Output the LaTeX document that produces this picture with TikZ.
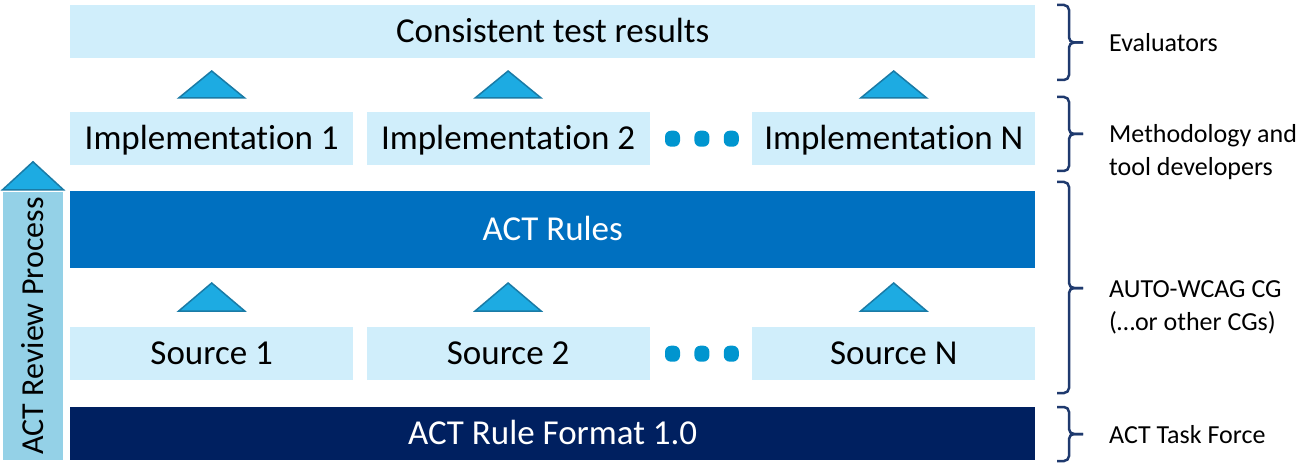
\documentclass[tikz,border=0pt]{standalone}
\usepackage{fontspec}
\setmainfont{Carlito}[Ligatures=NoCommon]
\usepackage{tikz}
\usetikzlibrary{positioning,calc}
\definecolor{boxlight}{HTML}{D0EEFB}
\definecolor{rulesblue}{HTML}{0070C0}
\definecolor{formatnavy}{HTML}{002060}
\definecolor{barblue}{HTML}{94D1E7}
\definecolor{trifill}{HTML}{1DABE2}
\definecolor{triedge}{HTML}{1A7BA6}
\definecolor{dotblue}{HTML}{0095CF}
\definecolor{bracenavy}{HTML}{1F3A6E}
\tikzset{
boxtext/.style = {font=\fontsize{35}{40}\selectfont, text height=22pt, text depth=0pt, inner sep=0pt},
lightbox/.style = {boxtext, fill=boxlight, rectangle, minimum height=53pt, minimum width=283pt},
widebox/.style = {boxtext, rectangle, minimum height=53pt, minimum width=965pt},
rulesbox/.style = {widebox, fill=rulesblue, text=white, minimum height=77pt},
formatbox/.style = {widebox, fill=formatnavy, text=white},
reviewbar/.style = {fill=barblue, rectangle, rotate=90, minimum width=268pt, minimum height=60pt, inner sep=0pt, font=\fontsize{32}{38}\selectfont},
tri/.style = {fill=trifill, draw=triedge, line width=1.5pt, line join=miter},
dot/.style = {fill=dotblue, rectangle, rounded corners=6pt, minimum width=15pt, minimum height=16pt, inner sep=0pt},
brace/.style = {draw=bracenavy, line width=2.5pt, rounded corners=5pt},
role/.style = {anchor=base west, align=left, inner sep=0pt, font=\fontsize{26}{33}\selectfont}
}
\begin{document}
\begin{tikzpicture}[x=1pt,y=-1pt]
	\useasboundingbox (0,0) rectangle (1300,465);
	% rows
	\node[widebox, fill=boxlight, anchor=north west] (results) at (70,5) {Consistent test results};
	\node[lightbox, anchor=north west] (impl1) at (70,112) {Implementation 1};
	\node[lightbox, right=13pt of impl1] (impl2) {Implementation 2};
	\node[dot, right=15pt of impl2] (idot1) {};
	\node[dot, right=14pt of idot1] (idot2) {};
	\node[dot, right=14pt of idot2] (idot3) {};
	\node[lightbox, anchor=north west] (implN) at (752,112) {Implementation N};
	\node[rulesbox, anchor=north west] (rules) at (70,191) {ACT Rules};
	\node[lightbox, anchor=north west] (src1) at (70,327) {Source 1};
	\node[lightbox, right=13pt of src1] (src2) {Source 2};
	\node[dot, right=15pt of src2] (sdot1) {};
	\node[dot, right=14pt of sdot1] (sdot2) {};
	\node[dot, right=14pt of sdot2] (sdot3) {};
	\node[lightbox, anchor=north west] (srcN) at (752,327) {Source N};
	\node[formatbox, anchor=north west] (format) at (70,407) {ACT Rule Format 1.0};
	\node[reviewbar] (review) at (33,326) {ACT Review Process};
	% arrows up
	\filldraw[tri] ($(impl1.north)+(-33,-14)$) -- ($(impl1.north)+(0,-41)$) -- ($(impl1.north)+(33,-14)$) -- cycle;
	\filldraw[tri] ($(impl2.north)+(-33,-14)$) -- ($(impl2.north)+(0,-41)$) -- ($(impl2.north)+(33,-14)$) -- cycle;
	\filldraw[tri] ($(implN.north)+(-33,-14)$) -- ($(implN.north)+(0,-41)$) -- ($(implN.north)+(33,-14)$) -- cycle;
	\filldraw[tri] ($(src1.north)+(-33,-16)$) -- ($(src1.north)+(0,-44)$) -- ($(src1.north)+(33,-16)$) -- cycle;
	\filldraw[tri] ($(src2.north)+(-33,-16)$) -- ($(src2.north)+(0,-44)$) -- ($(src2.north)+(33,-16)$) -- cycle;
	\filldraw[tri] ($(srcN.north)+(-33,-16)$) -- ($(srcN.north)+(0,-44)$) -- ($(srcN.north)+(33,-16)$) -- cycle;
	\filldraw[tri] ($(review.east)+(-30.5,-2)$) -- ($(review.east)+(0,-30)$) -- ($(review.east)+(30.5,-2)$) -- cycle;
	% braces
	\coordinate (br1a) at (1057,5);   \coordinate (br1b) at (1057,80);  \coordinate (br1m) at (1083,42.5);
	\coordinate (br2a) at (1057,97);  \coordinate (br2b) at (1057,171); \coordinate (br2m) at (1083,134);
	\coordinate (br3a) at (1057,182); \coordinate (br3b) at (1057,393); \coordinate (br3m) at (1083,288);
	\coordinate (br4a) at (1057,407); \coordinate (br4b) at (1057,461); \coordinate (br4m) at (1083,434);
	\draw[brace] (br1a) -- ++(12,0) |- (br1m);
	\draw[brace] (br1b) -- ++(12,0) |- (br1m);
	\draw[brace] (br2a) -- ++(12,0) |- (br2m);
	\draw[brace] (br2b) -- ++(12,0) |- (br2m);
	\draw[brace] (br3a) -- ++(12,0) |- (br3m);
	\draw[brace] (br3b) -- ++(12,0) |- (br3m);
	\draw[brace] (br4a) -- ++(12,0) |- (br4m);
	\draw[brace] (br4b) -- ++(12,0) |- (br4m);
	\node[role] (evaluators) at ($(br1m)+(26,9)$) {Evaluators};
	\node[role] (developers) at ($(br2m)+(26,42)$) {Methodology and\\tool developers};
	\node[role] (autowcag) at ($(br3m)+(26,42)$) {AUTO-WCAG CG\\(…or other CGs)};
	\node[role] (taskforce) at ($(br4m)+(26,9)$) {ACT Task Force};
\end{tikzpicture}
\end{document}
